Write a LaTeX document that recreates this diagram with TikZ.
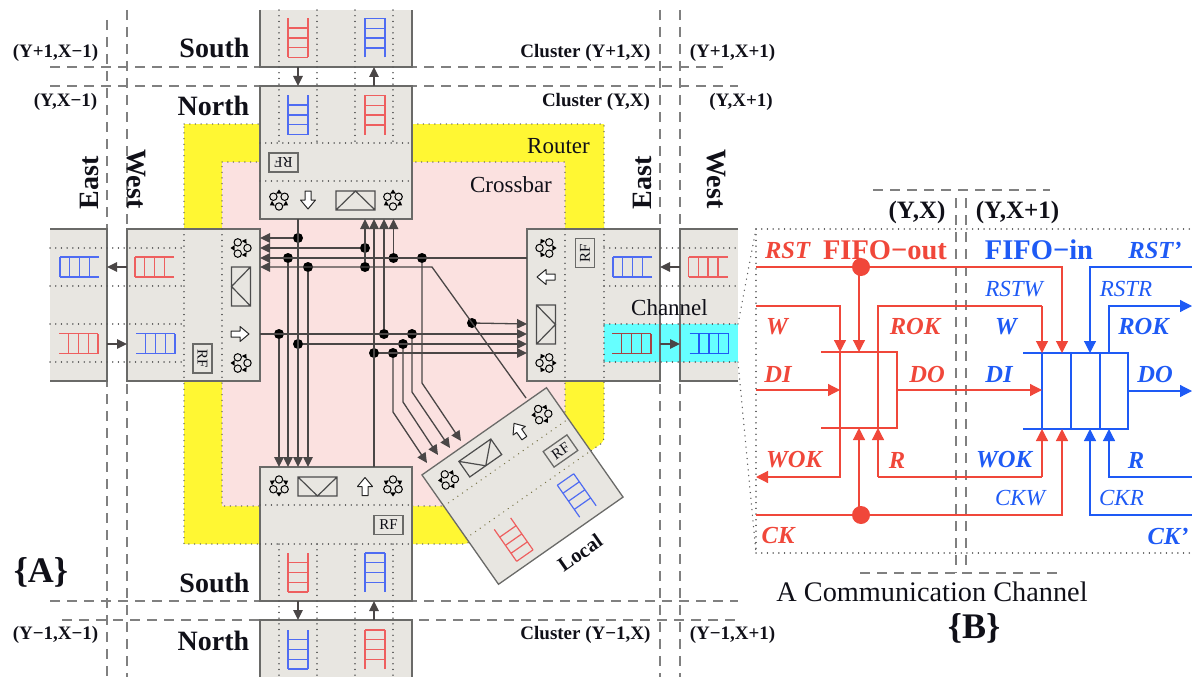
\documentclass[tikz,border=0pt]{standalone}
\usepackage{fontspec}
\setmainfont{Liberation Serif}
\usetikzlibrary{arrows.meta}
\definecolor{boxfill}{HTML}{E8E6E1}
\definecolor{boxline}{HTML}{6A6A68}
\definecolor{yel}{HTML}{FFF733}
\definecolor{pnk}{HTML}{FBE1E0}
\definecolor{cyn}{HTML}{66FFFF}
\definecolor{fifored}{HTML}{EE5F5F}
\definecolor{fifoblue}{HTML}{4F6CF2}
\definecolor{pred}{HTML}{F0473A}
\definecolor{pblue}{HTML}{1E5AF5}
\definecolor{wirec}{HTML}{4A4646}
\definecolor{dashc}{HTML}{808080}
\definecolor{ink}{HTML}{101018}
\newcommand{\sz}[1]{\fontsize{#1}{#1}\selectfont}
\tikzset{
  x=1pt,y=-1pt,
  rbox/.style={draw=boxline,fill=boxfill,line width=1.3pt,inner sep=0pt,outer sep=0pt},
  dotl/.style={draw=black!65,line width=1.4pt,line cap=round,dash pattern=on 0.1pt off 5.6pt},
  dashl/.style={draw=dashc,line width=1.2pt,dash pattern=on 10pt off 7pt},
  wire/.style={draw=wirec,line width=1.3pt},
  awire/.style={wire,-{Triangle[length=10pt,width=9.5pt]}},
  jdot/.style={circle,fill=black,inner sep=0pt,minimum size=10pt},
  bigdot/.style={circle,fill=pred,inner sep=0pt,minimum size=18pt},
  rline/.style={draw=pred,line width=1.2pt},
  bline/.style={draw=pblue,line width=1.2pt},
  rarr/.style={rline,-{Triangle[length=12pt,width=12pt]}},
  barr/.style={bline,-{Triangle[length=12pt,width=12pt]}},
  lbl/.style={inner sep=0pt,text=ink,font=\sz{19}\bfseries},
  big/.style={inner sep=0pt,text=ink,font=\sz{28}\bfseries},
  reg/.style={inner sep=0pt,text=ink,font=\sz{23}},
  rt/.style={inner sep=0pt,text=pred,font=\sz{24.5}\bfseries\itshape},
  bt/.style={inner sep=0pt,text=pblue,font=\sz{24.5}\bfseries\itshape},
  bi/.style={inner sep=0pt,text=pblue,font=\sz{23}\itshape},
  rfb/.style={draw=boxline,fill=boxfill,line width=1.3pt,inner sep=0pt,minimum width=29pt,minimum height=19pt,text=ink,font=\sz{15}},
}
% FIFO: open at local top, closed at local bottom
\newcommand{\fifo}[4]{\begin{scope}[shift={(#1,#2)},rotate=#3]
  \draw[#4,line width=1.2pt] (-10,-19.5) -- (-10,19.5) (10,-19.5) -- (10,19.5)
    (-10,-10) -- (10,-10) (-10,0) -- (10,0) (-10,9.7) -- (10,9.7) (-10,19.5) -- (10,19.5);
\end{scope}}
\newcommand{\ringicon}[3]{\begin{scope}[shift={(#1,#2)},rotate=#3]
  \foreach \a in {90,210,330}{\draw[black,line width=1pt,fill=boxfill] (\a:6.5) circle (3.7);}
  \foreach \a in {30,150,270}{\fill[black] (\a:10.5) -- (\a+24:7) -- (\a-24:7) -- cycle;}
\end{scope}}
\newcommand{\hollow}[3]{\begin{scope}[shift={(#1,#2)},rotate=#3]
  \draw[black!85,fill=white,line width=1pt,line join=round] (-3,-9) -- (3,-9) -- (3,0) -- (7.5,0) -- (0,9) -- (-7.5,0) -- (-3,0) -- cycle;
\end{scope}}
\newcommand{\xbar}[3]{\begin{scope}[shift={(#1,#2)},rotate=#3]
  \draw[black!70,line width=1.2pt] (-19.5,-9.5) rectangle (19.5,9.5) (-19.5,-9.5) -- (0,9.5) -- (19.5,-9.5);
\end{scope}}
\begin{document}
\begin{tikzpicture}
\useasboundingbox (0,0) rectangle (1192,677);
% router / crossbar areas
\path[fill=yel] (184,124) -- (604,124) -- (604,436) .. controls (604,444) and (600,444) .. (592,450) -- (472,540) .. controls (468,544) and (465,544) .. (460,544) -- (184,544) -- cycle;
\path[dotl] (184,124) -- (604,124) -- (604,436) .. controls (604,444) and (600,444) .. (592,450) -- (472,540) .. controls (468,544) and (465,544) .. (460,544) -- (184,544) -- cycle;
\path[fill=pnk] (222,162) -- (565,162) -- (565,420) -- (445,506) -- (222,506) -- cycle;
\path[dotl] (222,162) -- (565,162) -- (565,420) -- (445,506) -- (222,506) -- cycle;
% cluster boundaries
\draw[dashl] (107,20) -- (107,677);
\draw[dashl] (127,10) -- (127,677);
\draw[dashl] (660,10) -- (660,677);
\draw[dashl] (680,10) -- (680,677);
\draw[dashl] (50,67) -- (725,67);
\draw[dashl] (50,86) -- (738,86);
\draw[dashl] (50,601) -- (738,601);
\draw[dashl] (62,620) -- (740,620);
% routers
\node[rbox,minimum width=152pt,minimum height=133pt] (northR) at (336,152.5) {};
\node[rbox,minimum width=152pt,minimum height=134pt] (southR) at (336,534) {};
\node[rbox,minimum width=133pt,minimum height=152pt] (westR) at (193.5,305) {};
\node[rbox,minimum width=133pt,minimum height=152pt] (eastR) at (593.5,305) {};
% neighbours (open on the outer side)
\path[fill=boxfill] (260,10) rectangle (412,67);
\draw[boxline,line width=1.3pt] (260,10) -- (260,67) -- (412,67) -- (412,10);
\path[fill=boxfill] (260,620) rectangle (412,677);
\draw[boxline,line width=1.3pt] (260,677) -- (260,620) -- (412,620) -- (412,677);
\path[fill=boxfill] (50,229) rectangle (107,381);
\draw[boxline,line width=1.3pt] (50,229) -- (107,229) -- (107,381) -- (50,381);
\path[fill=boxfill] (680,229) rectangle (738,381);
\draw[boxline,line width=1.3pt] (738,229) -- (680,229) -- (680,381) -- (738,381);
% channel highlight
\path[fill=cyn] (604,324) rectangle (738,362);
\draw[boxline,line width=1.3pt] (660,324) -- (660,362) (680,324) -- (680,362);
% dotted guides
\foreach \x in {279,317,355,393}{\path[dotl] (\x,10) -- (\x,143); \path[dotl] (\x,544) -- (\x,677);}
\foreach \y in {248,286,324,362}{\path[dotl] (50,\y) -- (184,\y); \path[dotl] (604,\y) -- (738,\y);}
\foreach \y in {143,181,505,544}{\path[dotl] (260,\y) -- (412,\y);}
\foreach \x in {184,222,565,604}{\path[dotl] (\x,229) -- (\x,381);}
% FIFOs
\fifo{298}{38}{0}{fifored}
\fifo{375}{38}{180}{fifoblue}
\fifo{298}{115}{0}{fifoblue}
\fifo{375}{115}{180}{fifored}
\fifo{298}{572.5}{0}{fifored}
\fifo{375}{572.5}{180}{fifoblue}
\fifo{298}{649.5}{0}{fifoblue}
\fifo{375}{649.5}{180}{fifored}
\fifo{154.5}{267}{-90}{fifored}
\fifo{155.5}{343.5}{90}{fifoblue}
\fifo{79.5}{267}{-90}{fifoblue}
\fifo{78.5}{343.5}{90}{fifored}
\fifo{632.5}{267}{-90}{fifoblue}
\fifo{631.5}{343.5}{90}{fifored!70!black}
\fifo{708}{267}{-90}{fifored}
\fifo{709}{343.5}{90}{pblue}
% north router contents
\ringicon{279}{200}{0}\hollow{308}{200}{0}\xbar{355.5}{200.5}{180}\ringicon{393}{200}{0}
\node[rfb,rotate=180] (rfN) at (283.5,162.5) {RF};
% south router contents
\ringicon{279}{486}{180}\xbar{317.5}{486.5}{0}\hollow{365}{486.5}{180}\ringicon{393}{486}{180}
\node[rfb] (rfS) at (388.5,525) {RF};
% west router contents
\ringicon{241}{248}{90}\xbar{241}{286.5}{-90}\hollow{240}{334}{90}\ringicon{241}{363}{90}
\node[rfb,rotate=-90] (rfW) at (202.5,358.5) {RF};
% east router contents
\ringicon{546}{248}{-90}\hollow{546}{277}{-90}\xbar{546}{324.5}{90}\ringicon{546}{363}{-90}
\node[rfb,rotate=90] (rfE) at (585,253) {RF};
% local router
\node[rbox,rotate=35,minimum width=152pt,minimum height=133.5pt] (localR) at (522.5,486) {};
\begin{scope}[shift={(422,475)},rotate=35]
  \path[dotl,draw=black!60!yellow] (0,38) -- (152,38);
  \path[dotl,draw=black!60!yellow] (0,77) -- (152,77);
  \ringicon{19}{19}{180}\xbar{57.5}{19.5}{0}\hollow{105}{19.5}{180}\ringicon{133}{19}{180}
  \fifo{38}{105.5}{0}{fifored}
  \fifo{115}{105.5}{180}{fifoblue}
\end{scope}
\node[rfb,rotate=35] (rfL) at (560.5,451) {RF};
% crossbar wiring: named ends
\coordinate (nOut) at (298,219);
\coordinate (sOut) at (374,467);
\coordinate (wOut) at (260,334);
\coordinate (eOut) at (527,258);
\coordinate (lOut) at (526,398);
\coordinate (lBend) at (432,267);
\coordinate (wi1) at (260,238);\coordinate (wi2) at (260,248);\coordinate (wi3) at (260,258);\coordinate (wi4) at (260,267);
\coordinate (ni1) at (365,219);\coordinate (ni2) at (374,219);\coordinate (ni3) at (384,219);\coordinate (ni4) at (393.5,219);
\coordinate (si1) at (279,467);\coordinate (si2) at (288,467);\coordinate (si3) at (298,467);\coordinate (si4) at (308,467);
\coordinate (ei1) at (527,324);\coordinate (ei2) at (527,334);\coordinate (ei3) at (527,344);\coordinate (ei4) at (527,353);
\coordinate (li1) at (427,463);\coordinate (li2) at (438,455);\coordinate (li3) at (450,448);\coordinate (li4) at (461,441);
\coordinate (t1b) at (393,412);\coordinate (t2b) at (403,402);\coordinate (t3b) at (412,392);\coordinate (t4b) at (422,383);
\node[jdot] (a1) at (298,238) {};
\node[jdot] (a2) at (298,344) {};
\node[jdot] (b1) at (422,258) {};
\node[jdot] (b2) at (393.5,258) {};
\node[jdot] (b3) at (288,258) {};
\node[jdot] (c1) at (279,334) {};
\node[jdot] (c2) at (384,334) {};
\node[jdot] (c3) at (412,334) {};
\node[jdot] (g1) at (403,344) {};
\node[jdot] (e1) at (374,353) {};
\node[jdot] (e2) at (393,353) {};
\node[jdot] (f1) at (472,323) {};
\node[jdot] (f2) at (365,267) {};
\node[jdot] (f3) at (308,267) {};
\node[jdot] (f4) at (365,248) {};
\draw[awire] (nOut) -- (si3);
\draw[awire] (a1) -- (wi1);
\draw[awire] (a2) -- (ei3);
\draw[awire] (eOut) -- (wi3);
\draw[awire] (b3) -- (si2);
\draw[awire] (b2) -- (ni4);
\draw[awire] (wOut) -- (ei2);
\draw[awire] (c1) -- (si1);
\draw[awire] (c2) -- (ni3);
\draw[awire] (sOut) -- (ni2);
\draw[awire] (e1) -- (ei4);
\draw[awire] (f1) -- (ei1);
\draw[awire] (f2) -- (ni1);
\draw[awire] (f3) -- (si4);
\draw[awire] (f4) -- (wi2);
\draw[wire] (f2) -- (f4);
\draw[awire] (lOut) -- (lBend) -- (wi4);
\draw[awire] (e2) -- (t1b) -- (li1);
\draw[awire] (g1) -- (t2b) -- (li2);
\draw[awire] (c3) -- (t3b) -- (li3);
\draw[awire] (b1) -- (t4b) -- (li4);
% links between clusters
\coordinate (la) at (298,67);\coordinate (lb) at (298,86);\coordinate (lc) at (374,86);\coordinate (ld) at (374,67);
\coordinate (le) at (298,601);\coordinate (lf) at (298,620);\coordinate (lg) at (374,620);\coordinate (lh) at (374,601);
\coordinate (li) at (127,267);\coordinate (lj) at (107,267);\coordinate (lk) at (107,344);\coordinate (ll) at (127,344);
\coordinate (lm) at (680,267);\coordinate (ln) at (660,267);\coordinate (lo) at (660,344);\coordinate (lp) at (680,344);
\foreach \s/\e in {la/lb,lc/ld,le/lf,lg/lh,li/lj,lk/ll,lm/ln,lo/lp}{\draw[awire] (\s) -- (\e);}
% labels, panel A
\node[lbl] (t1) at (55.5,53) {(Y+1,X−1)};
\node[big] (t2) at (214.5,47.5) {South};
\node[lbl] (t3) at (585.5,53) {Cluster (Y+1,X)};
\node[lbl] (t4) at (732.5,53) {(Y+1,X+1)};
\node[lbl] (t5) at (65.5,102) {(Y,X−1)};
\node[big] (t6) at (213.5,105.5) {North};
\node[lbl] (t7) at (596,102) {Cluster (Y,X)};
\node[lbl] (t8) at (741,102) {(Y,X+1)};
\node[big,rotate=90] (t9) at (89,183) {East};
\node[big,rotate=-90] (t10) at (136,179) {West};
\node[big,rotate=90] (t11) at (642,183) {East};
\node[big,rotate=-90] (t12) at (716,179) {West};
\node[reg] (t13) at (558.5,146) {Router};
\node[reg] (t14) at (511,185) {Crossbar};
\node[reg] (t15) at (669.5,308) {Channel};
\node[big] (t16) at (214.5,583) {South};
\node[big] (t17) at (213.5,640.5) {North};
\node[lbl] (t18) at (55.5,635) {(Y−1,X−1)};
\node[lbl] (t19) at (585.5,635) {Cluster (Y−1,X)};
\node[lbl] (t20) at (732.5,635) {(Y−1,X+1)};
\node[inner sep=0pt,text=ink,font=\sz{20.5}\bfseries,rotate=35] (t21) at (580,553) {Local};
\node[inner sep=0pt,text=ink,font=\sz{36}\bfseries] (t22) at (41,572) {\{A\}};
% panel B frame
\draw[dashl] (873,190) -- (1050,190);
\draw[dashl] (860,573) -- (1062,573);
\draw[dashl] (956,198) -- (956,573);
\draw[dashl] (966,198) -- (966,570);
\path[dotl] (756,229) -- (1192,229);
\path[dotl] (756,553) -- (1192,553);
\path[dotl] (756,229) -- (756,553);
\path[dotl] (738,324) -- (756,229);
\path[dotl] (738,362) -- (756,553);
\node[inner sep=0pt,text=ink,font=\sz{25}\bfseries] (t23) at (917,212) {(Y,X)};
\node[inner sep=0pt,text=ink,font=\sz{25}\bfseries] (t24) at (1017.5,212) {(Y,X+1)};
% FIFO-in (blue)
\draw[bline] (1023,353) -- (1128,353) -- (1128,429) -- (1023,429);
\draw[bline] (1042,353) -- (1042,429) (1071,353) -- (1071,429) (1100,353) -- (1100,429);
\coordinate (rstP) at (1192,267);\coordinate (rstB) at (1090,267);\coordinate (rstT) at (1090,353);
\coordinate (rokS) at (1109,353);\coordinate (rokB) at (1109,306);\coordinate (rokT) at (1192,306);
\coordinate (doS) at (1128,391);\coordinate (doT) at (1192,391);
\coordinate (rS) at (1192,477);\coordinate (rB) at (1109,477);\coordinate (rT) at (1109,429);
\coordinate (ckS) at (1192,515);\coordinate (ckB) at (1090,515);\coordinate (ckT) at (1090,429);
\draw[barr] (rstP) -- (rstB) -- (rstT);
\draw[barr] (rokS) -- (rokB) -- (rokT);
\draw[barr] (doS) -- (doT);
\draw[barr] (rS) -- (rB) -- (rT);
\draw[barr] (ckS) -- (ckB) -- (ckT);
% FIFO-out (red)
\draw[rline] (821,352) -- (897,352) -- (897,428) -- (821,428);
\coordinate (r1) at (756,267);\coordinate (r1e) at (1062,267);\coordinate (r1t) at (1062,353);
\coordinate (w1) at (756,306);\coordinate (w1b) at (840,306);\coordinate (w1t) at (840,352);
\coordinate (w2) at (840,352);\coordinate (w2b) at (840,477);\coordinate (w2t) at (756,477);
\coordinate (d1s) at (756,390);\coordinate (d1t) at (840,390);
\coordinate (d2s) at (897,390);\coordinate (d2t) at (1042,390);
\coordinate (k1) at (756,515);\coordinate (k1e) at (1062,515);\coordinate (k1t) at (1062,429);
\coordinate (x1) at (878,428);\coordinate (x1b) at (878,477);\coordinate (x2) at (878,352);\coordinate (x2b) at (878,306);
\coordinate (y1) at (1042,306);\coordinate (y1t) at (1042,353);\coordinate (y2) at (1042,477);\coordinate (y2t) at (1042,429);
\node[bigdot] (dTop) at (861,267) {};
\node[bigdot] (dBot) at (861,515) {};
\coordinate (dTopT) at (859,352);\coordinate (dBotT) at (859,428);\coordinate (dTopS) at (859,267);\coordinate (dBotS) at (859,515);
\draw[rarr] (r1) -- (r1e) -- (r1t);
\draw[rarr] (w1) -- (w1b) -- (w1t);
\draw[rarr] (w2) -- (w2b) -- (w2t);
\draw[rarr] (d1s) -- (d1t);
\draw[rarr] (d2s) -- (d2t);
\draw[rarr] (k1) -- (k1e) -- (k1t);
\draw[rarr] (dTopS) -- (dTopT);
\draw[rarr] (dBotS) -- (dBotT);
\draw[rarr] (x1b) -- (x1);
\draw[rline] (x1) -- (x2) -- (x2b) -- (y1);
\draw[rarr] (y1) -- (y1t);
\draw[rline] (x1b) -- (y2);
\draw[rarr] (y2) -- (y2t);
% labels, panel B
\node[rt] (u1) at (787.5,251) {RST};
\node[inner sep=0pt,text=pred,font=\sz{28.5}\bfseries] (u2) at (885,250) {FIFO−out};
\node[rt] (u3) at (777,327) {W};
\node[rt] (u4) at (778,375) {DI};
\node[rt] (u5) at (794,460) {WOK};
\node[rt] (u6) at (778,536) {CK};
\node[rt] (u7) at (915,327) {ROK};
\node[rt] (u8) at (927,375) {DO};
\node[rt] (u9) at (897,460) {R};
\node[inner sep=0pt,text=pblue,font=\sz{28.5}\bfseries] (v1) at (1039,250) {FIFO−in};
\node[bt] (v2) at (1155,250) {RST’};
\node[bi] (v3) at (1014,289) {RSTW};
\node[bi] (v4) at (1126,289) {RSTR};
\node[bt] (v5) at (1006,327) {W};
\node[bt] (v6) at (1143.5,327) {ROK};
\node[bt] (v7) at (999,375) {DI};
\node[bt] (v8) at (1155,375) {DO};
\node[bt] (v9) at (1004,460) {WOK};
\node[bt] (v10) at (1136,460) {R};
\node[bi] (v11) at (1020,498) {CKW};
\node[bi] (v12) at (1121.5,498) {CKR};
\node[bt] (v13) at (1168,536) {CK’};
\node[inner sep=0pt,text=ink,font=\sz{28.3}] (w1l) at (932,592) {A Communication Channel};
\node[inner sep=0pt,text=ink,font=\sz{36}\bfseries] (w2l) at (974,628) {\{B\}};
\end{tikzpicture}
\end{document}
